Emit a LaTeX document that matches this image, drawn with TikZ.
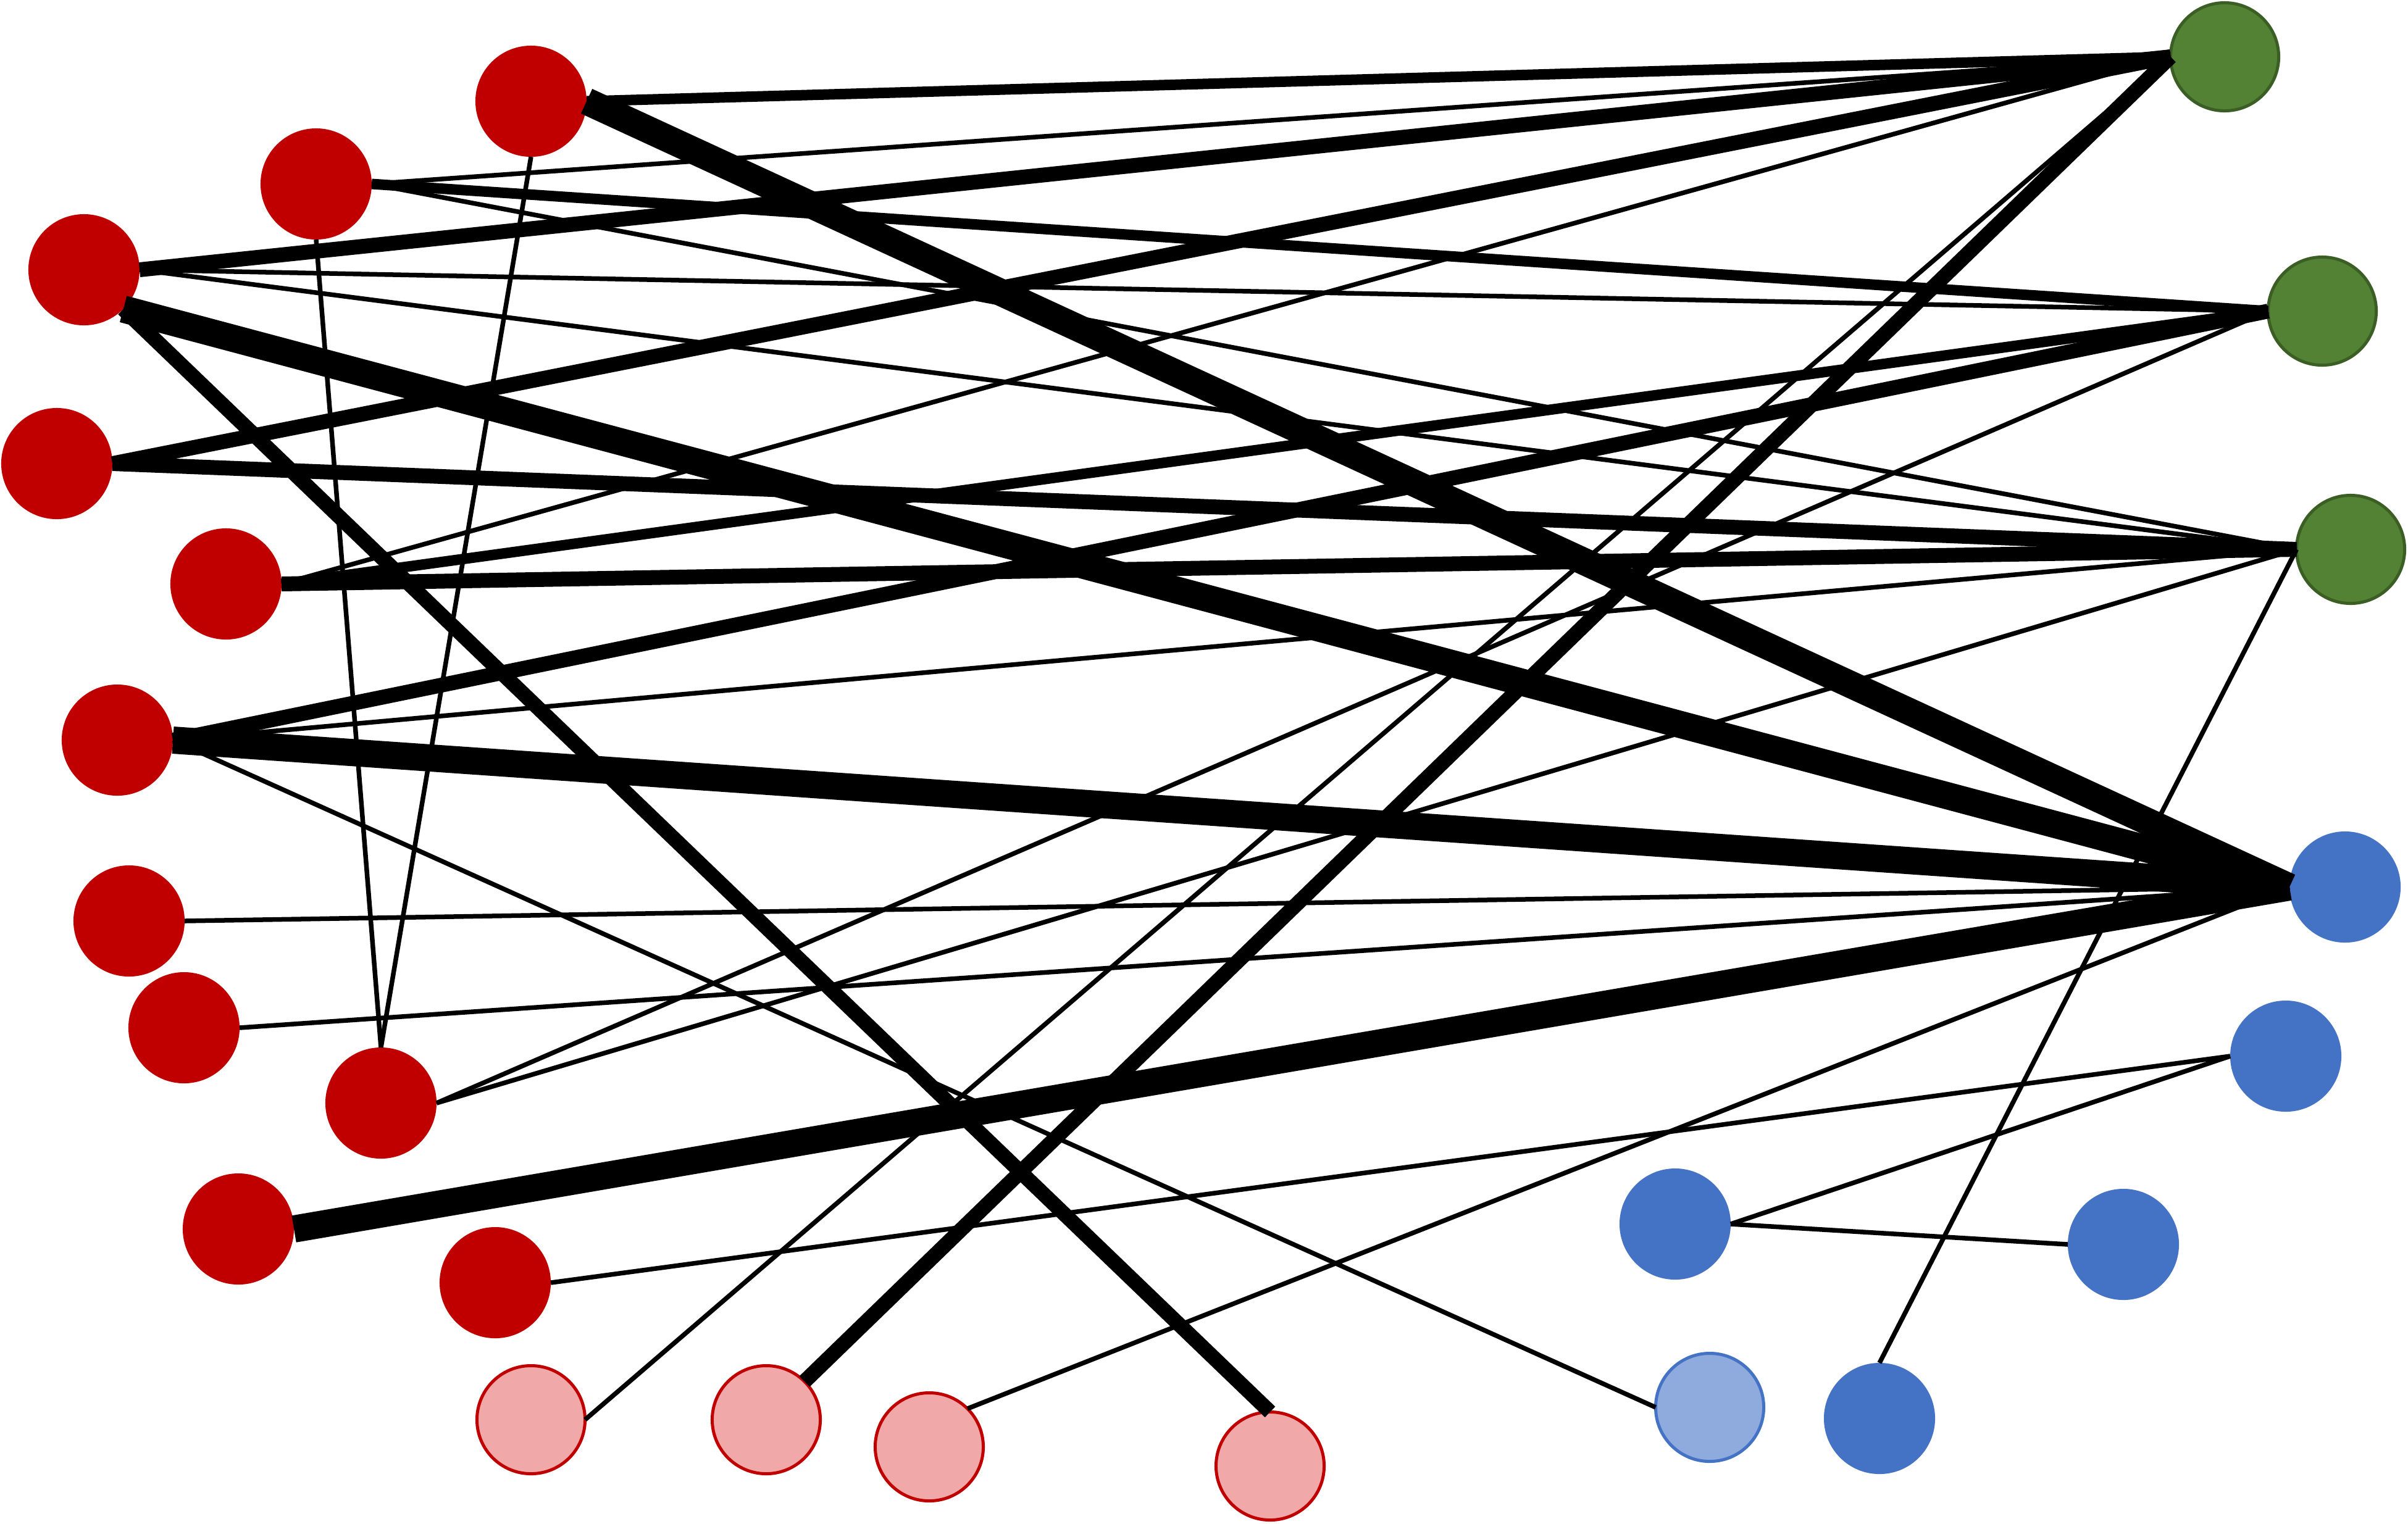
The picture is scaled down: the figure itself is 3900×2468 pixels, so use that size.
\documentclass[tikz,border=0pt]{standalone}
\definecolor{dred}{HTML}{C00000}
\definecolor{lred}{HTML}{F0A8A8}
\definecolor{grn}{HTML}{548235}
\definecolor{dgrn}{HTML}{3B5E24}
\definecolor{blu}{HTML}{4472C4}
\definecolor{lblu}{HTML}{8FAADC}
\begin{document}
\begin{tikzpicture}[x=0.01cm,y=-0.01cm,
  base/.style={circle,inner sep=0pt,outer sep=0pt,minimum size=1.8cm},
  rednode/.style={base,fill=dred},
  pinknode/.style={base,fill=lred,draw=dred,line width=0.05cm,minimum size=1.75cm},
  greennode/.style={base,fill=grn,draw=dgrn,line width=0.05cm,minimum size=1.75cm},
  bluenode/.style={base,fill=blu},
  lbluenode/.style={base,fill=lblu,draw=blu,line width=0.05cm,minimum size=1.75cm},
  conn/.style={draw=black,line cap=butt},
  wthin/.style={conn,line width=0.075cm},
  wmed/.style={conn,line width=0.17cm},
  wthick/.style={conn,line width=0.24cm},
  wvthick/.style={conn,line width=0.44cm}]
\useasboundingbox (0,0) rectangle (3900,2468);
% red nodes
\node[rednode] (R1) at (860,164) {};
\node[rednode] (R2) at (512,298) {};
\node[rednode] (R3) at (136,437) {};
\node[rednode] (R4) at (92,751) {};
\node[rednode] (R5) at (366,946) {};
\node[rednode] (R6) at (190,1199) {};
\node[rednode] (R7) at (209,1492) {};
\node[rednode] (R8) at (298,1665) {};
\node[rednode] (R9) at (617,1787) {};
\node[rednode] (R10) at (386,1991) {};
\node[rednode] (R11) at (802,2078) {};
% light red nodes
\node[pinknode] (P1) at (860,2300) {};
\node[pinknode] (P2) at (1241,2300) {};
\node[pinknode] (P3) at (1505,2344) {};
\node[pinknode] (P4) at (2057,2375) {};
% green nodes
\node[greennode] (G1) at (3603,92) {};
\node[greennode] (G2) at (3761,504) {};
\node[greennode] (G3) at (3807,890) {};
% blue nodes
\node[bluenode] (B1) at (3798,1437) {};
\node[bluenode] (B2) at (3702,1711) {};
\node[bluenode] (B3) at (2713,1983) {};
\node[bluenode] (B4) at (3439,2016) {};
\node[bluenode] (B5) at (3044,2298) {};
\node[lbluenode] (LB) at (2769,2280) {};
% very thick connectors
\draw[wvthick] (R1.east) -- (B1.west);
\draw[wvthick] (R3.south east) -- (B1.west);
\draw[wvthick] (R6.east) -- (B1.west);
\draw[wvthick] (R10.east) -- (B1.west);
% thick connectors
\draw[wthick] (R3.east) -- (G1.west);
\draw[wthick] (R4.east) -- (G1.west);
\draw[wthick] (R4.east) -- (G3.west);
\draw[wthick] (R5.east) -- (G3.west);
\draw[wthick] (R6.east) -- (G2.west);
\draw[wthick] (R3.south east) -- (P4.north);
\draw[wthick] (P2.north east) -- (G1.west);
% medium connectors
\draw[wmed] (R1.east) -- (G1.west);
\draw[wmed] (R2.east) -- (G2.west);
\draw[wmed] (R5.east) -- (G2.west);
% thin connectors
\draw[wthin] (R2.east) -- (G1.west);
\draw[wthin] (R2.east) -- (G3.west);
\draw[wthin] (R2.south) -- (R9.north);
\draw[wthin] (R1.south) -- (R9.north);
\draw[wthin] (R3.east) -- (G2.west);
\draw[wthin] (R3.east) -- (G3.west);
\draw[wthin] (R5.east) -- (G1.west);
\draw[wthin] (R6.east) -- (G3.west);
\draw[wthin] (R6.east) -- (LB.west);
\draw[wthin] (R7.east) -- (B1.west);
\draw[wthin] (R8.east) -- (B1.west);
\draw[wthin] (R9.east) -- (G2.west);
\draw[wthin] (R9.east) -- (G3.west);
\draw[wthin] (R11.east) -- (B2.west);
\draw[wthin] (P1.east) -- (G1.west);
\draw[wthin] (P3.north east) -- (B1.west);
\draw[wthin] (B3.east) -- (B2.west);
\draw[wthin] (B3.east) -- (B4.west);
\draw[wthin] (B5.north) -- (G3.west);
\end{tikzpicture}
\end{document}
